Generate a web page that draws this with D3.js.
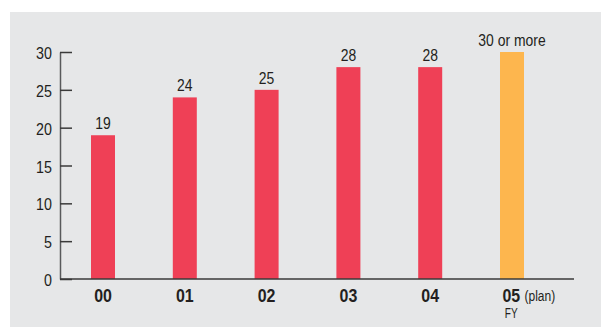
<!DOCTYPE html>
<html>
<head>
<meta charset="utf-8">
<script src="https://cdn.jsdelivr.net/npm/d3@7"></script>
<style>
  html, body { margin: 0; padding: 0; background: #ffffff; }
  svg { display: block; }
  text { font-family: "Liberation Sans", Arial, sans-serif; fill: #231f20; }
</style>
</head>
<body>
<svg id="chart" width="601" height="327"></svg>
<script>
// Fiscal years and their values
const years = ["00", "01", "02", "03", "04", "05"];
const values = [19, 24, 25, 28, 28, 30];
const valueLabels = ["19", "24", "25", "28", "28", "30 or more"];
const isPlan = [false, false, false, false, false, true];
const yTicks = [0, 5, 10, 15, 20, 25, 30];

const svg = d3.select("#chart");

// Narrow type: draw text squeezed horizontally around its anchor point
const narrow = (sx) => (sel) => sel
  .attr("transform", function () {
    const t = d3.select(this);
    return `translate(${+t.attr("data-x")},${+t.attr("data-y")}) scale(${sx},1)`;
  });

// Panel background
svg.append("rect")
  .attr("x", 10).attr("y", 12)
  .attr("width", 591).attr("height", 315)
  .attr("fill", "#e6e7e8");

const x = d3.scalePoint().domain(years).range([103, 512]);
const y = d3.scaleLinear().domain([0, 30]).range([279, 52]);
const barW = 24;

// Y axis with inward ticks
const yAxis = svg.append("g")
  .attr("transform", "translate(60,0)")
  .call(d3.axisRight(y).tickValues(yTicks).tickSize(12).tickSizeOuter(0).tickFormat(d3.format("d")));
yAxis.select(".domain").attr("stroke", "#58595b").attr("stroke-width", 1.5);
yAxis.selectAll(".tick line").attr("stroke", "#3a3a3a").attr("stroke-width", 1.5);
yAxis.selectAll(".tick text")
  .attr("x", null).attr("dy", "0.36em")
  .attr("data-x", -8).attr("data-y", 0.5)
  .attr("text-anchor", "end")
  .style("font-size", "17px")
  .style("fill", "#231f20")
  .call(narrow(0.84));

// Bars
svg.append("g").selectAll("rect")
  .data(years)
  .join("rect")
  .attr("x", (d) => x(d) - barW / 2)
  .attr("y", (d, i) => y(values[i]))
  .attr("width", barW)
  .attr("height", (d, i) => y(0) - y(values[i]))
  .attr("fill", (d, i) => isPlan[i] ? "#fdb64e" : "#ef4056");

// X axis baseline
svg.append("line")
  .attr("x1", 60).attr("x2", 574)
  .attr("y1", y(0)).attr("y2", y(0))
  .attr("stroke", "#3a3a3a").attr("stroke-width", 1.5);

// Value labels above bars
svg.append("g").selectAll("text")
  .data(years)
  .join("text")
  .attr("data-x", (d) => x(d))
  .attr("data-y", (d, i) => y(values[i]) - 6)
  .attr("text-anchor", "middle")
  .style("font-size", "17px")
  .text((d, i) => valueLabels[i])
  .call(narrow(0.82));

// Category labels
svg.append("g").selectAll("text")
  .data(years)
  .join("text")
  .attr("data-x", (d, i) => isPlan[i] ? x(d) - 9.5 : x(d))
  .attr("data-y", 302)
  .attr("text-anchor", (d, i) => isPlan[i] ? "start" : "middle")
  .style("font-size", "19px")
  .style("font-weight", "bold")
  .text((d) => d)
  .call(narrow(0.84));

svg.append("text")
  .attr("data-x", x("05") + 12.5)
  .attr("data-y", 301)
  .attr("text-anchor", "start")
  .style("font-size", "15px")
  .text("(plan)")
  .call(narrow(0.8));

svg.append("text")
  .attr("data-x", x("05") - 0.7)
  .attr("data-y", 318)
  .attr("text-anchor", "middle")
  .style("font-size", "14px")
  .text("FY")
  .call(narrow(0.72));
</script>
</body>
</html>
